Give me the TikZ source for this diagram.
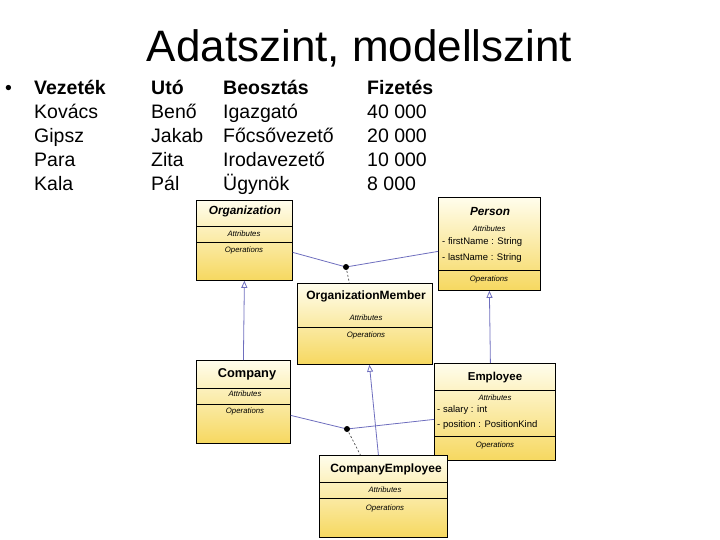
\documentclass[tikz,border=0pt]{standalone}
\usepackage{fontspec}
\setmainfont{Liberation Sans}
\usetikzlibrary{arrows.meta}
\definecolor{lineblue}{RGB}{110,110,190}
\definecolor{boxtop}{RGB}{255,253,236}
\definecolor{boxbot}{RGB}{246,216,96}
\begin{document}
\begin{tikzpicture}[x=1pt,y=-1pt,
  umlbox/.style={draw=black, line width=0.8pt, top color=boxtop, bottom color=boxbot, inner sep=0pt, anchor=north west},
  sepline/.style={draw=black, line width=0.6pt},
  ttl/.style={inner sep=0pt, font=\bfseries\fontsize{12}{13}\selectfont},
  ittl/.style={inner sep=0pt, font=\bfseries\itshape\fontsize{11.8}{13}\selectfont},
  sect/.style={inner sep=0pt, font=\itshape\fontsize{7.8}{9}\selectfont},
  attr/.style={inner sep=0pt, anchor=west, font=\fontsize{9.5}{10}\selectfont},
  assoc/.style={draw=lineblue, line width=0.8pt},
  gen/.style={draw=lineblue, line width=0.8pt, -{Triangle[open,length=7pt,width=6pt]}},
  dashlink/.style={draw=black!70, line width=0.7pt, dash pattern=on 2pt off 2pt},
  txt/.style={inner sep=0pt, anchor=base west, font=\fontsize{19.5}{23}\selectfont},
  htxt/.style={txt, font=\bfseries\fontsize{19.5}{23}\selectfont}
]
\useasboundingbox (0,0) rectangle (720,540);

% Title
\node[inner sep=0pt, anchor=base, font=\fontsize{44}{50}\selectfont] (title) at (359.5,62) {Adatszint, modellszint};

% Bullet table
\node[txt] (bul) at (5,95) {•};
\node[htxt] (h1) at (34,95) {Vezeték};
\node[htxt] (h2) at (151,95) {Utó};
\node[htxt] (h3) at (223,95) {Beosztás};
\node[htxt] (h4) at (367,95) {Fizetés};
\node[txt] (a1) at (34,119) {Kovács};
\node[txt] (a2) at (151,119) {Benő};
\node[txt] (a3) at (223,119) {Igazgató};
\node[txt] (a4) at (367,119) {40 000};
\node[txt] (b1) at (34,143) {Gipsz};
\node[txt] (b2) at (151,143) {Jakab};
\node[txt] (b3) at (223,143) {Főcsővezető};
\node[txt] (b4) at (367,143) {20 000};
\node[txt] (c1) at (34,167) {Para};
\node[txt] (c2) at (151,167) {Zita};
\node[txt] (c3) at (223,167) {Irodavezető};
\node[txt] (c4) at (367,167) {10 000};
\node[txt] (e1) at (34,191) {Kala};
\node[txt] (e2) at (151,191) {Pál};
\node[txt] (e3) at (223,191) {Ügynök};
\node[txt] (e4) at (367,191) {8 000};

% Organization
\node[umlbox, minimum width=96pt, minimum height=80pt] (org) at (196,200) {};
\draw[sepline] (196,226) -- (292,226);
\draw[sepline] (196,242) -- (292,242);
\node[ittl] (orgT) at (245,211) {Organization};
\node[sect] (orgA) at (244,233.5) {Attributes};
\node[sect] (orgO) at (244,250) {Operations};

% Person
\node[umlbox, minimum width=102pt, minimum height=93pt] (person) at (438,197) {};
\draw[sepline] (438,270) -- (540,270);
\node[ittl] (perT) at (490,211) {Person};
\node[sect] (perA) at (489,229) {Attributes};
\node[attr] (perA1) at (442,242) {- firstName : String};
\node[attr] (perA2) at (442,258) {- lastName : String};
\node[sect] (perO) at (489,279) {Operations};

% OrganizationMember
\node[umlbox, minimum width=135pt, minimum height=81pt] (om) at (297,283) {};
\draw[sepline] (297,327) -- (432,327);
\node[ttl] (omT) at (366,296) {OrganizationMember};
\node[sect] (omA) at (366,318) {Attributes};
\node[sect] (omO) at (366,335) {Operations};

% Company
\node[umlbox, minimum width=94pt, minimum height=83pt] (company) at (196,360) {};
\draw[sepline] (196,388) -- (290,388);
\draw[sepline] (196,404) -- (290,404);
\node[ttl, font=\bfseries\fontsize{12.8}{14}\selectfont] (comT) at (247,374) {Company};
\node[sect] (comA) at (245,394) {Attributes};
\node[sect] (comO) at (245,411) {Operations};

% Employee
\node[umlbox, minimum width=121pt, minimum height=97pt] (emp) at (434,363) {};
\draw[sepline] (434,390) -- (555,390);
\draw[sepline] (434,436) -- (555,436);
\node[ttl, font=\bfseries\fontsize{11.5}{13}\selectfont] (empT) at (495,378) {Employee};
\node[sect] (empA) at (495,398) {Attributes};
\node[attr] (empA1) at (437,410) {- salary : int};
\node[attr] (empA2) at (437,425) {- position : PositionKind};
\node[sect] (empO) at (495,445) {Operations};

% CompanyEmployee
\node[umlbox, minimum width=128pt, minimum height=82pt] (ce) at (319,455) {};
\draw[sepline] (319,482) -- (447,482);
\draw[sepline] (319,498) -- (447,498);
\node[ttl] (ceT) at (386,469) {CompanyEmployee};
\node[sect] (ceA) at (385,490) {Attributes};
\node[sect] (ceO) at (385,508) {Operations};

% Associations
\coordinate (d1) at (346,267);
\coordinate (d2) at (347,429);
\draw[assoc] ([yshift=-12pt]org.east) -- (d1) -- ([yshift=-7.5pt]person.west);
\draw[dashlink] (d1) -- ([xshift=-15.5pt]om.north);
\fill (d1) circle (3pt);
\draw[assoc] ([yshift=-13.5pt]company.east) -- (d2) -- ([yshift=-7.5pt]emp.west);
\draw[dashlink] (d2) -- ([xshift=-23pt]ce.north);
\fill (d2) circle (3pt);

% Generalizations
\draw[gen] (company.north) -- (org.south);
\draw[gen] ([xshift=-4.5pt]emp.north) -- (person.south);
\draw[gen] ([xshift=-5pt]ce.north) -- ([xshift=4.5pt]om.south);
\end{tikzpicture}
\end{document}
